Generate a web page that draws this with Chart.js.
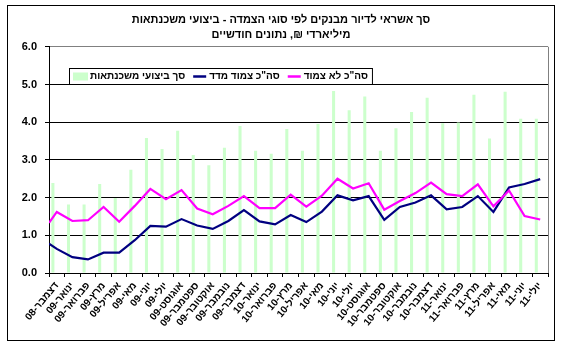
<!DOCTYPE html>
<html><head><meta charset="utf-8">
<script src="https://cdn.jsdelivr.net/npm/chart.js@4/dist/chart.umd.min.js"></script>
<style>html,body{margin:0;padding:0;background:#fff;overflow:hidden;} canvas{display:block;}</style>
</head><body>
<canvas id="c" width="565" height="357"></canvas>
<script>
const months = ['דצמבר-08','ינואר-09','פברואר-09','מרץ-09','אפריל-09','מאי-09','יוני-09','יולי-09','אוגוסט-09','ספטמבר-09','אוקטובר-09','נובמבר-09','דצמבר-09','ינואר-10','פברואר-10','מרץ-10','אפריל-10','מאי-10','יוני-10','יולי-10','אוגוסט-10','ספטמבר-10','אוקטובר-10','נובמבר-10','דצמבר-10','ינואר-11','פברואר-11','מרץ-11','אפריל-11','מאי-11','יוני-11','יולי-11'];
const mortgageTotal = [2.39,1.82,1.82,2.36,1.99,2.74,3.58,3.29,3.77,3.13,2.86,3.32,3.90,3.24,3.16,3.82,3.24,3.95,4.83,4.32,4.68,3.24,3.84,4.27,4.65,3.97,3.99,4.73,3.57,4.81,4.09,4.09];
const indexedTotal = [0.64,0.42,0.36,0.54,0.54,0.87,1.25,1.23,1.43,1.26,1.17,1.38,1.67,1.37,1.29,1.54,1.35,1.63,2.06,1.93,2.04,1.41,1.75,1.87,2.06,1.69,1.75,2.04,1.62,2.27,2.36,2.49];
const unindexedTotal = [1.62,1.38,1.40,1.75,1.36,1.78,2.23,1.96,2.20,1.71,1.56,1.78,2.04,1.72,1.72,2.08,1.76,2.05,2.50,2.24,2.38,1.68,1.91,2.12,2.40,2.09,2.04,2.35,1.77,2.19,1.51,1.42];
const indexedLead = 0.78;
const unindexedLead = 1.33;
const yTicks = [0,1,2,3,4,5,6];
const titleLines = ['סך אשראי לדיור מבנקים לפי סוגי הצמדה - ביצועי משכנתאות','מיליארדי ₪, נתונים חודשיים'];
const seriesNames = ['סך ביצועי משכנתאות','סה"כ צמוד מדד','סה"כ לא צמוד'];

const FONT = 'Arial, "Liberation Sans", "DejaVu Sans", sans-serif';

function linePoints(lead, vals){
  return [{x:-0.5,y:lead}].concat(vals.map((v,i)=>({x:i,y:v})));
}

const framePlugin = {
  id:'frame',
  beforeDatasetsDraw(chart){
    const {ctx, chartArea:a} = chart;
    ctx.save();
    ctx.strokeStyle='#808080'; ctx.lineWidth=1;
    ctx.beginPath(); ctx.moveTo(Math.round(a.right)+0.5,a.top); ctx.lineTo(Math.round(a.right)+0.5,a.bottom); ctx.stroke();
    ctx.restore();
  },
  afterDraw(chart){
    const ctx=chart.ctx;
    ctx.save(); ctx.strokeStyle='#000'; ctx.lineWidth=1;
    ctx.strokeRect(7.5,5.5,547,335);
    ctx.restore();
  }
};

const legendPlugin = {
  id:'boxLegend',
  afterDatasetsDraw(chart){
    const {ctx, chartArea:a} = chart;
    const ds = chart.data.datasets;
    ctx.save();
    ctx.font = 'bold 10px '+FONT;
    ctx.textBaseline='middle';
    const x0 = Math.round(a.left)+20, y0 = Math.round(a.top)+21, h=16;
    let x = x0+4;
    const items=[];
    ds.forEach(d=>{
      const tw = ctx.measureText(d.label).width;
      items.push({d,tw});
    });
    let total = 4;
    items.forEach((it,i)=>{ total += 17 + it.tw + (i<items.length-1?7:4); });
    ctx.fillStyle='#fff'; ctx.fillRect(x0,y0,total,h);
    ctx.strokeStyle='#000'; ctx.lineWidth=1; ctx.strokeRect(x0+0.5,y0+0.5,total,h);
    const cy = y0+h/2+0.5;
    items.forEach((it,i)=>{
      const d=it.d;
      if(d.type==='bar'){
        ctx.fillStyle=d.backgroundColor; ctx.fillRect(x,cy-4,15,8);
      } else {
        ctx.strokeStyle=d.borderColor; ctx.lineWidth=2.5;
        ctx.beginPath(); ctx.moveTo(x+1,cy); ctx.lineTo(x+14,cy); ctx.stroke();
      }
      x+=17;
      ctx.fillStyle='#000'; ctx.textAlign='left';
      ctx.fillText(d.label,x,cy);
      x+=it.tw+7;
    });
    ctx.restore();
  }
};

new Chart(document.getElementById('c'),{
  data:{
    labels:months,
    datasets:[
      {type:'bar',label:seriesNames[0],data:mortgageTotal,backgroundColor:'#CCFFCC',borderWidth:0,
       barPercentage:0.39,categoryPercentage:1,xAxisID:'x',yAxisID:'y',order:3},
      {type:'line',label:seriesNames[1],data:linePoints(indexedLead,indexedTotal),borderColor:'#000080',backgroundColor:'#000080',
       borderWidth:2.2,pointRadius:0,tension:0,xAxisID:'xl',yAxisID:'y',order:2},
      {type:'line',label:seriesNames[2],data:linePoints(unindexedLead,unindexedTotal),borderColor:'#FF00FF',backgroundColor:'#FF00FF',
       borderWidth:2.2,pointRadius:0,tension:0,xAxisID:'xl',yAxisID:'y',order:1}
    ]
  },
  options:{
    responsive:false, animation:false, devicePixelRatio:1, events:[],
    layout:{padding:{left:14,right:17,top:0,bottom:0}},
    plugins:{
      legend:{display:false}, tooltip:{enabled:false},
      title:{display:true,text:titleLines,color:'#000',font:{family:FONT,size:11,weight:'bold',lineHeight:1.4},padding:{top:12,bottom:4}}
    },
    scales:{
      x:{type:'category',offset:true,
        grid:{display:true,drawOnChartArea:false,offset:true,color:'#000',tickLength:4,tickColor:'#000'},
        border:{display:true,color:'#000',width:1},
        ticks:{autoSkip:false,maxRotation:50,minRotation:50,color:'#000',font:{family:FONT,size:10,weight:'bold'},padding:3},
        afterFit(s){s.height=84;}
      },
      xl:{type:'linear',min:-0.5,max:31.5,display:false},
      y:{type:'linear',min:0,max:6,
        afterBuildTicks(s){s.ticks=yTicks.map(v=>({value:v}));},
        grid:{color:c=>c.tick&&c.tick.value===6?'#808080':'#000',tickLength:4,tickColor:'#000',lineWidth:1},
        border:{display:true,color:'#000',width:1},
        ticks:{color:'#000',font:{family:FONT,size:11,weight:'bold'},padding:8,callback:v=>Number(v).toFixed(1)},
        afterFit(s){s.width=35;}
      }
    }
  },
  plugins:[framePlugin,legendPlugin]
});
</script>
</body></html>
